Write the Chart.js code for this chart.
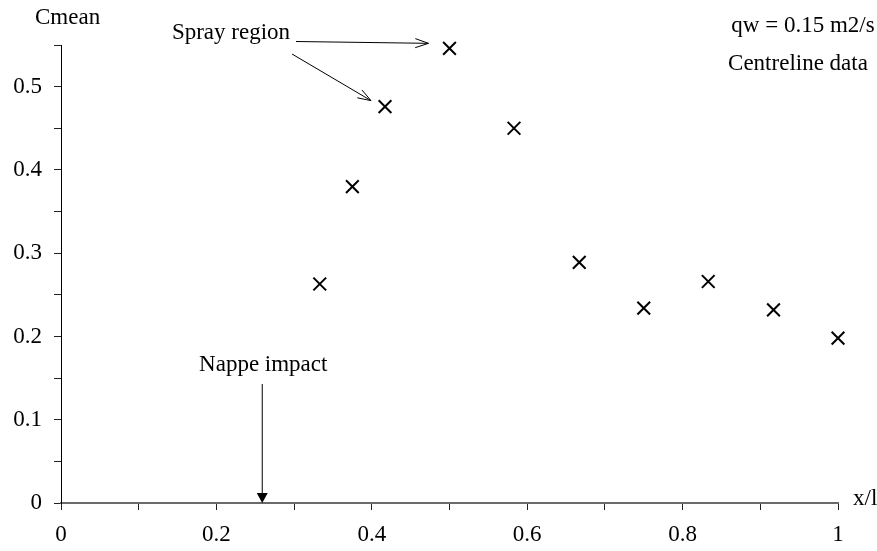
<!DOCTYPE html>
<html>
<head>
<meta charset="utf-8">
<script src="https://cdn.jsdelivr.net/npm/chart.js@4.4.1/dist/chart.umd.min.js"></script>
<style>
  html, body { margin: 0; padding: 0; background: #ffffff; }
  #wrap { width: 877px; height: 551px; position: relative; }
</style>
</head>
<body>
<div id="wrap"><canvas id="c" width="877" height="551"></canvas></div>
<script>
// ---- data ----
const xValues = [0.333, 0.375, 0.417, 0.5, 0.583, 0.667, 0.75, 0.833, 0.917, 1.0];
const cMean   = [0.263, 0.380, 0.476, 0.546, 0.450, 0.289, 0.234, 0.266, 0.232, 0.198];
const xTickLabels = ['0', '0.2', '0.4', '0.6', '0.8', '1'];
const yTickLabels = ['0', '0.1', '0.2', '0.3', '0.4', '0.5'];
const xAxisTitle = 'x/l';
const yAxisTitle = 'Cmean';
const noteLines = ['qw = 0.15 m2/s', 'Centreline data'];
const sprayLabel = 'Spray region';
const nappeLabel = 'Nappe impact';
const nappeX = 0.259;

const FONT = '"Liberation Serif", "Times New Roman", serif';
const FS = 23;

function fmt(v) { return String(Number(v.toFixed(2))); }

const annotations = {
  id: 'annot',
  afterDraw(chart) {
    const ctx = chart.ctx;
    const xs = chart.scales.x, ys = chart.scales.y;
    const X = v => xs.getPixelForValue(v);
    const Y = v => ys.getPixelForValue(v);
    ctx.save();
    ctx.fillStyle = '#000';
    ctx.strokeStyle = '#000';
    ctx.font = FS + 'px ' + FONT;
    ctx.textBaseline = 'middle';

    // axis titles
    ctx.textAlign = 'left';
    ctx.fillText(yAxisTitle, 35, 18);
    ctx.fillText(xAxisTitle, xs.right + 15, ys.bottom - 4);

    // notes (top right)
    ctx.textAlign = 'center';
    ctx.fillText(noteLines[0], X(1.0) - 35, 26);
    ctx.fillText(noteLines[1], X(1.0) - 40, 64);

    // spray region label + open arrows
    const p3x = X(xValues[3]), p3y = Y(cMean[3]);
    const p2x = X(xValues[2]), p2y = Y(cMean[2]);
    ctx.fillText(sprayLabel, 231, 33);
    function openArrow(x1, y1, x2, y2) {
      ctx.lineWidth = 1;
      ctx.beginPath(); ctx.moveTo(x1, y1); ctx.lineTo(x2, y2); ctx.stroke();
      const a = Math.atan2(y2 - y1, x2 - x1);
      const L = 14, w = 0.33;
      ctx.beginPath();
      ctx.moveTo(x2 - L * Math.cos(a - w), y2 - L * Math.sin(a - w));
      ctx.lineTo(x2, y2);
      ctx.lineTo(x2 - L * Math.cos(a + w), y2 - L * Math.sin(a + w));
      ctx.stroke();
    }
    openArrow(296, 41.5, p3x - 21, p3y - 5);
    openArrow(292, 54, p2x - 14, p2y - 6);

    // nappe impact label + filled arrow
    const nx = X(nappeX);
    ctx.fillText(nappeLabel, nx + 1, 365);
    ctx.lineWidth = 1;
    ctx.beginPath(); ctx.moveTo(nx, 384); ctx.lineTo(nx, ys.bottom - 8); ctx.stroke();
    ctx.beginPath();
    ctx.moveTo(nx - 5.5, ys.bottom - 10);
    ctx.lineTo(nx + 5.5, ys.bottom - 10);
    ctx.lineTo(nx, ys.bottom);
    ctx.closePath(); ctx.fill();
    ctx.restore();
  }
};

new Chart(document.getElementById('c'), {
  type: 'scatter',
  data: {
    datasets: [{
      label: yAxisTitle,
      data: xValues.map((x, i) => ({ x: x, y: cMean[i] })),
      pointStyle: 'crossRot',
      pointRadius: 9,
      pointHoverRadius: 9,
      borderColor: '#000',
      backgroundColor: '#000',
      borderWidth: 2,
      showLine: false,
      clip: false
    }]
  },
  options: {
    responsive: false,
    animation: false,
    devicePixelRatio: 1,
    layout: { padding: { left: 0, right: 39, top: 45, bottom: 0 } },
    plugins: { legend: { display: false }, tooltip: { enabled: false } },
    scales: {
      x: {
        type: 'linear', min: 0, max: 1,
        afterFit: s => { s.height = 48; },
        ticks: {
          stepSize: 0.1, autoSkip: false, maxRotation: 0, padding: 11,
          color: '#000', font: { family: FONT, size: FS },
          callback: v => { const s = fmt(v); return xTickLabels.includes(s) ? s : ''; }
        },
        grid: { drawOnChartArea: false, drawTicks: true, tickLength: 7, color: '#222', lineWidth: 1 },
        border: { display: true, color: '#6a6a6a', width: 2 }
      },
      y: {
        type: 'linear', min: 0, max: 0.55,
        afterFit: s => { s.width = 61; },
        ticks: {
          stepSize: 0.05, autoSkip: false, padding: 12,
          color: '#000', font: { family: FONT, size: FS },
          callback: v => { const s = fmt(v); return yTickLabels.includes(s) ? s : ''; }
        },
        grid: { drawOnChartArea: false, drawTicks: true, tickLength: 7, color: '#222', lineWidth: 1 },
        border: { display: true, color: '#000', width: 1 }
      }
    }
  },
  plugins: [annotations]
});
</script>
</body>
</html>
